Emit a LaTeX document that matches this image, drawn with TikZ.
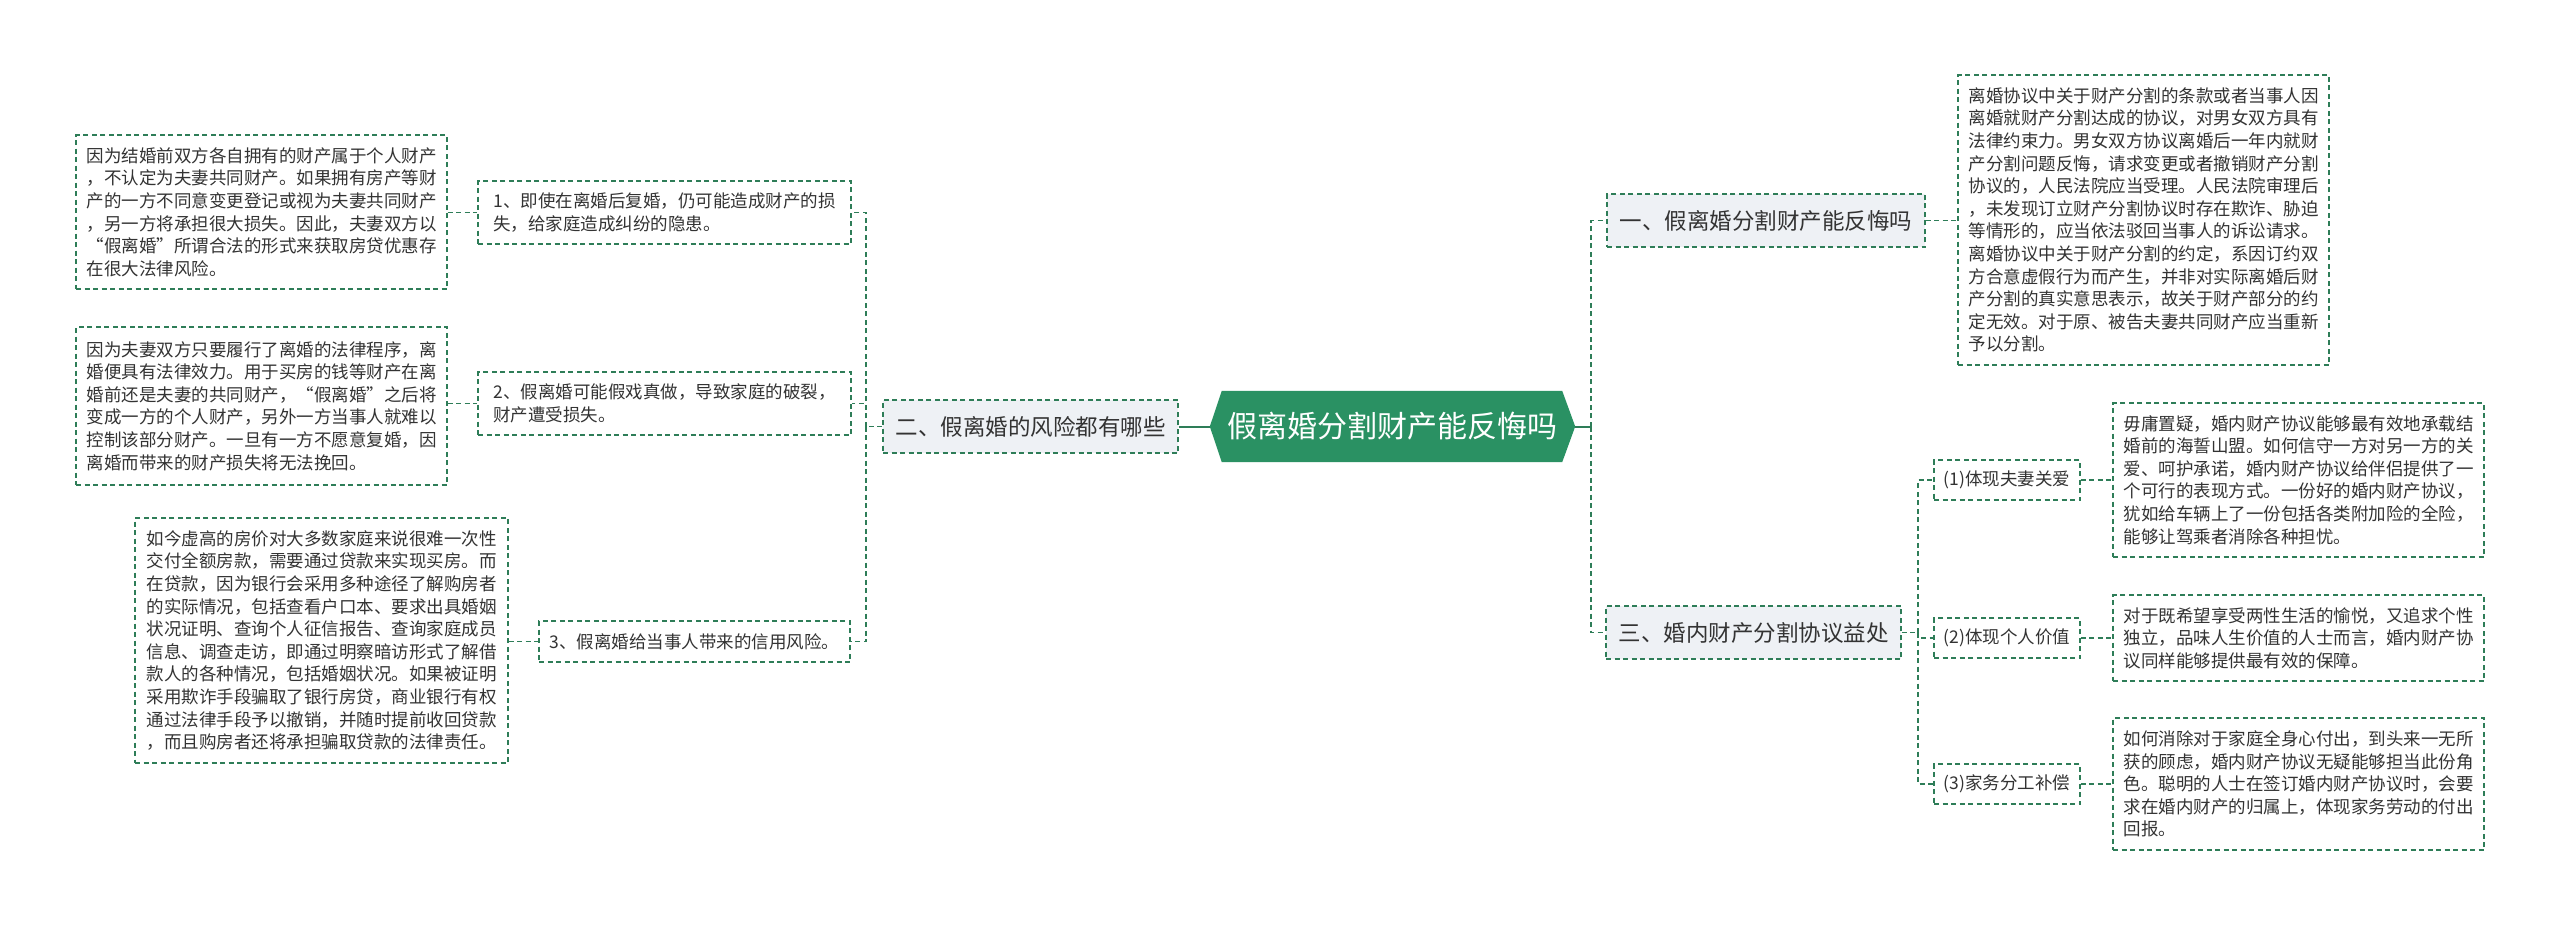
\documentclass[tikz,border=0pt]{standalone}
\usepackage{fontspec}
\newfontfamily\cjk{Noto Sans CJK SC}
\usetikzlibrary{backgrounds}
\definecolor{lg}{HTML}{2E7D58}
\definecolor{hexg}{HTML}{2A9163}
\definecolor{lonefill}{HTML}{EEF1F5}
\definecolor{txt}{HTML}{333333}
\begin{document}
\begin{tikzpicture}[x=1pt,y=-1pt,
  box/.style={draw=lg, line width=1.3pt, dash pattern=on 5pt off 3.5pt, fill=white, text=txt,
    font=\cjk\fontsize{17.5pt}{22.6pt}\selectfont, align=left, inner sep=0pt},
  lvl/.style={box, fill=lonefill, font=\cjk\fontsize{22.5pt}{27pt}\selectfont},
  link/.style={draw=lg, line width=1.3pt, dash pattern=on 5pt off 3.5pt},
  rootlink/.style={draw=lg, line width=2pt},
]
\useasboundingbox (0,0) rectangle (2560,926);

% root
\node[minimum width=340pt, minimum height=71pt, inner sep=0pt, text=white,
  font=\cjk\fontsize{30pt}{34pt}\selectfont] (root) at (1392,426.5) {假离婚分割财产能反悔吗};
\begin{scope}[on background layer]
\fill[hexg] (root.north west) -- (root.north east) -- ([xshift=13pt]root.east)
  -- (root.south east) -- (root.south west) -- ([xshift=-12pt]root.west) -- cycle;
\end{scope}
\coordinate (rootL) at ([xshift=-12pt]root.west);
\coordinate (rootR) at ([xshift=13pt]root.east);

% level 1
\node[lvl, minimum width=295pt, minimum height=53pt] (er) at (1030.5,426.5) {二、假离婚的风险都有哪些};
\node[lvl, minimum width=318pt, minimum height=53pt] (yi) at (1766,220.5) {一、假离婚分割财产能反悔吗};
\node[lvl, minimum width=295pt, minimum height=53pt] (san) at (1753.5,632.5) {三、婚内财产分割协议益处};

% left side
\node[box, minimum width=373pt, minimum height=63pt] (b1) at (664.5,212.5)
 {1、即使在离婚后复婚，仍可能造成财产的损\\失，给家庭造成纠纷的隐患。};
\node[box, minimum width=373pt, minimum height=63pt] (b2) at (664.5,403.5)
 {2、假离婚可能假戏真做，导致家庭的破裂，\\财产遭受损失。};
\node[box, minimum width=311pt, minimum height=41pt] (b3) at (694.5,641.5)
 {3、假离婚给当事人带来的信用风险。};

\node[box, minimum width=371pt, minimum height=154pt] (A) at (261.5,212)
 {因为结婚前双方各自拥有的财产属于个人财产\\，不认定为夫妻共同财产。如果拥有房产等财\\产的一方不同意变更登记或视为夫妻共同财产\\，另一方将承担很大损失。因此，夫妻双方以\\“假离婚”所谓合法的形式来获取房贷优惠存\\在很大法律风险。};
\node[box, minimum width=371pt, minimum height=158pt] (B) at (261.5,406)
 {因为夫妻双方只要履行了离婚的法律程序，离\\婚便具有法律效力。用于买房的钱等财产在离\\婚前还是夫妻的共同财产，“假离婚”之后将\\变成一方的个人财产，另外一方当事人就难以\\控制该部分财产。一旦有一方不愿意复婚，因\\离婚而带来的财产损失将无法挽回。};
\node[box, minimum width=373pt, minimum height=245pt] (C) at (321.5,640.5)
 {如今虚高的房价对大多数家庭来说很难一次性\\交付全额房款，需要通过贷款来实现买房。而\\在贷款，因为银行会采用多种途径了解购房者\\的实际情况，包括查看户口本、要求出具婚姻\\状况证明、查询个人征信报告、查询家庭成员\\信息、调查走访，即通过明察暗访形式了解借\\款人的各种情况，包括婚姻状况。如果被证明\\采用欺诈手段骗取了银行房贷，商业银行有权\\通过法律手段予以撤销，并随时提前收回贷款\\，而且购房者还将承担骗取贷款的法律责任。};

% right side
\node[box, minimum width=371pt, minimum height=290pt] (R1) at (2143.5,220)
 {离婚协议中关于财产分割的条款或者当事人因\\离婚就财产分割达成的协议，对男女双方具有\\法律约束力。男女双方协议离婚后一年内就财\\产分割问题反悔，请求变更或者撤销财产分割\\协议的，人民法院应当受理。人民法院审理后\\，未发现订立财产分割协议时存在欺诈、胁迫\\等情形的，应当依法驳回当事人的诉讼请求。\\离婚协议中关于财产分割的约定，系因订约双\\方合意虚假行为而产生，并非对实际离婚后财\\产分割的真实意思表示，故关于财产部分的约\\定无效。对于原、被告夫妻共同财产应当重新\\予以分割。};

\node[box, minimum width=146pt, minimum height=40pt] (p1) at (2007,480) {(1)体现夫妻关爱};
\node[box, minimum width=146pt, minimum height=40pt] (p2) at (2007,638) {(2)体现个人价值};
\node[box, minimum width=146pt, minimum height=40pt] (p3) at (2007,784) {(3)家务分工补偿};

\node[box, minimum width=371pt, minimum height=154pt] (d1) at (2298.5,480)
 {毋庸置疑，婚内财产协议能够最有效地承载结\\婚前的海誓山盟。如何信守一方对另一方的关\\爱、呵护承诺，婚内财产协议给伴侣提供了一\\个可行的表现方式。一份好的婚内财产协议，\\犹如给车辆上了一份包括各类附加险的全险，\\能够让驾乘者消除各种担忧。};
\node[box, minimum width=371pt, minimum height=86pt] (d2) at (2298.5,638)
 {对于既希望享受两性生活的愉悦，又追求个性\\独立，品味人生价值的人士而言，婚内财产协\\议同样能够提供最有效的保障。};
\node[box, minimum width=371pt, minimum height=132pt] (d3) at (2298.5,784)
 {如何消除对于家庭全身心付出，到头来一无所\\获的顾虑，婚内财产协议无疑能够担当此份角\\色。聪明的人士在签订婚内财产协议时，会要\\求在婚内财产的归属上，体现家务劳动的付出\\回报。};

% connectors
\coordinate (lt) at (866,426.5);
\coordinate (rt) at (1591,426.5);
\coordinate (st) at (1918,632.5);

\draw[rootlink] (er.east) -- (rootL);
\draw[rootlink] (rootR) -- (rt);

\draw[link] (er.west) -- (lt);
\draw[link] (lt) |- (b1.east);
\draw[link] (lt) |- (b2.east);
\draw[link] (lt) |- (b3.east);
\draw[link] (b1.west -| A.east) -- (b1.west);
\draw[link] (b2.west -| B.east) -- (b2.west);
\draw[link] (b3.west -| C.east) -- (b3.west);

\draw[link] (rt) |- (yi.west);
\draw[link] (rt) |- (san.west);
\draw[link] (yi.east) -- (yi.east -| R1.west);

\draw[link] (san.east) -- (st);
\draw[link] (st) |- (p1.west);
\draw[link] (st) |- (p2.west);
\draw[link] (st) |- (p3.west);
\draw[link] (p1.east) -- (d1.west);
\draw[link] (p2.east) -- (d2.west);
\draw[link] (p3.east) -- (d3.west);
\end{tikzpicture}
\end{document}
